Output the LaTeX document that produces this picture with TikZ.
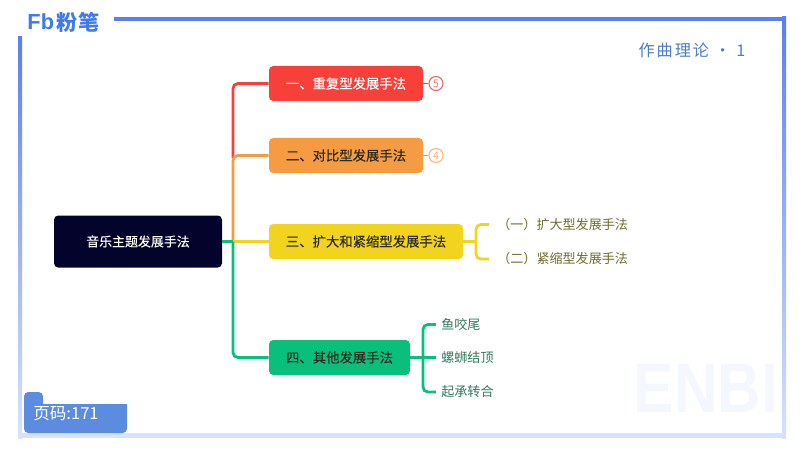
\documentclass[tikz,border=0pt]{standalone}
\usepackage{fontspec}
\usepackage{xcolor}
\setmainfont{Noto Sans CJK SC}
\newfontfamily\widefont[LetterSpace=12]{Noto Sans CJK SC}
\newfontfamily\heavyfont[FakeBold=0.25]{Noto Sans CJK SC}
\newfontfamily\markfont{Liberation Sans}
\usetikzlibrary{positioning,calc}
\definecolor{framemain}{HTML}{5B80EE}
\definecolor{framepale}{HTML}{D8E2FB}
\definecolor{logoblue}{HTML}{3F7BEE}
\definecolor{tagblue}{HTML}{5B8CE0}
\definecolor{titleblue}{HTML}{4A7CC8}
\definecolor{rootnavy}{HTML}{03032B}
\definecolor{mred}{HTML}{F8403A}
\definecolor{morange}{HTML}{F59B42}
\definecolor{myellow}{HTML}{F2D41E}
\definecolor{mgreen}{HTML}{0ABF7C}
\definecolor{inkdark}{HTML}{2B2B1E}
\definecolor{inkolive}{HTML}{6F6B2E}
\definecolor{inkgreen}{HTML}{2F7A5C}
\definecolor{markpale}{HTML}{F4F7FE}
\tikzset{
    methodbox/.style={rounded corners=3pt, minimum height=0.875cm, inner sep=0pt, font=\heavyfont\fontsize{9.5}{11}\selectfont, text=inkdark},
    branch/.style={line width=2pt, rounded corners=3.5pt},
    badge/.style={circle, draw, fill=white, line width=0.8pt, minimum size=0.35cm, inner sep=0pt, font=\fontsize{7.5}{8}\selectfont},
    sublabel/.style={anchor=west, inner ysep=0pt, font=\fontsize{9.3}{11}\selectfont}
}
\begin{document}
\begin{tikzpicture}[scale=1]
    \useasboundingbox (0,0) rectangle (20,11.25);

    \fill[framemain] (2.85,10.825) rectangle (19.65,10.725);
    \shade[top color=framemain, bottom color=framepale] (19.55,10.825) rectangle (19.65,0.3);
    \shade[top color=framemain, bottom color=framepale] (0.45,10.325) rectangle (0.55,0.3);
    \fill[framepale] (0.45,0.425) rectangle (19.65,0.3);

    \node (watermark) at (17.65,1.55) [font=\markfont\bfseries\fontsize{50}{50}\selectfont, text=markpale, xscale=0.86, inner sep=0pt] {ENBI};

    \node (logoFb) at (1.02,10.7) [font=\markfont\bfseries\fontsize{15.5}{16}\selectfont, text=logoblue, inner sep=0pt] {Fb};
    \node (logoName) at (1.95,10.7) [font=\bfseries\fontsize{15}{16}\selectfont, text=logoblue, inner sep=0pt] {粉笔};
    \node (title) at (17.3,10) [font=\widefont\fontsize{11.5}{13}\selectfont, text=titleblue, inner sep=0pt] {作曲理论 · 1};

    \fill[tagblue, rounded corners=3pt] (0.6,0.425) -- (0.6,1.45) -- (1.075,1.45) [sharp corners] -- (1.075,1.15) -- (3.175,1.15) [rounded corners=3pt] -- (3.175,0.425) -- cycle;
    \node (page) at (0.825,0.9) [anchor=west, font=\fontsize{11.8}{13}\selectfont, text=white, inner sep=0pt] {页码:171};

    \node (rootbox) at (3.45,5.2125) [methodbox, fill=rootnavy, text=white, minimum width=4.2cm, minimum height=1.3cm, font=\heavyfont\fontsize{9.2}{11}\selectfont] {音乐主题发展手法};
    \node (methodA) at (8.65,9.1625) [methodbox, fill=mred, text=white, minimum width=3.85cm] {一、重复型发展手法};
    \node (methodB) at (8.65,7.3625) [methodbox, fill=morange, minimum width=3.85cm] {二、对比型发展手法};
    \node (methodC) at (9.15,5.2125) [methodbox, fill=myellow, minimum width=4.85cm] {三、扩大和紧缩型发展手法};
    \node (methodD) at (8.4875,2.3125) [methodbox, fill=mgreen, minimum width=3.525cm] {四、其他发展手法};

    \node (badgeA) at (10.9,9.1625) [badge, draw=mred!80!black!70, text=mred!70] {5};
    \node (badgeB) at (10.9,7.3625) [badge, draw=morange!70, text=morange!80] {4};

    \coordinate (trunk) at (5.825,5.2125);
    \coordinate (forkB) at (5.825,7.3);
    \coordinate (forkC) at (11.9,5.2125);
    \coordinate (forkD) at (10.575,2.3125);

    \node (subA) at (12.225,5.6375) [sublabel, inner xsep=0.2cm, text=inkolive] {（一）扩大型发展手法};
    \node (subB) at (12.225,4.775) [sublabel, inner xsep=0.2cm, text=inkolive] {（二）紧缩型发展手法};
    \node (subC) at (10.9,3.1375) [sublabel, inner xsep=0.125cm, text=inkgreen] {鱼咬尾};
    \node (subD) at (10.9,2.3125) [sublabel, inner xsep=0.125cm, text=inkgreen] {螺蛳结顶};
    \node (subE) at (10.9,1.45) [sublabel, inner xsep=0.125cm, text=inkgreen] {起承转合};

    \draw[branch, mred] (forkB) |- (methodA.west);
    \draw[branch, morange] (trunk) |- (methodB.west);
    \draw[branch, myellow] (trunk) -- (methodC.west);
    \draw[branch, mgreen] (trunk) |- (methodD.west);
    \draw[branch, mgreen] (rootbox.east) -- (trunk);

    \draw[mred, line width=1.2pt] (methodA) -- (badgeA);
    \draw[morange, line width=1.2pt] (methodB) -- (badgeB);

    \draw[branch, myellow] (methodC.east) -- (forkC);
    \draw[branch, myellow] (forkC) |- (subA.west);
    \draw[branch, myellow] (forkC) |- (subB.west);
    \draw[branch, mgreen] (methodD.east) -- (forkD) -- (subD.west);
    \draw[branch, mgreen] (forkD) |- (subC.west);
    \draw[branch, mgreen] (forkD) |- (subE.west);
\end{tikzpicture}
\end{document}
